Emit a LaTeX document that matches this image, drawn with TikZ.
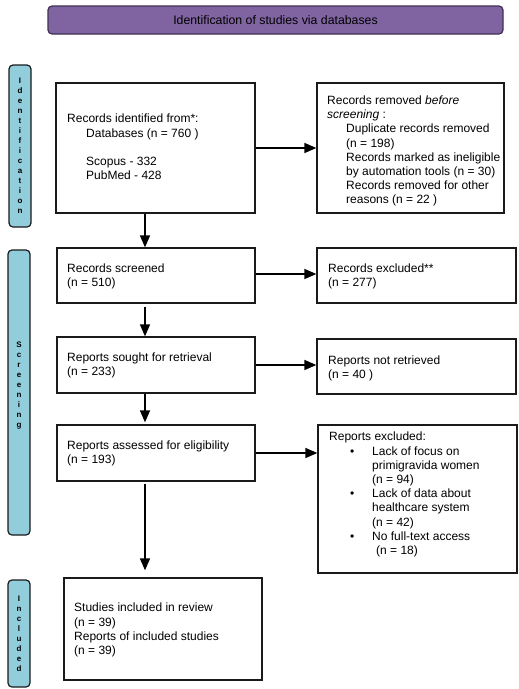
\documentclass[tikz,border=0pt]{standalone}
\usepackage{fontspec}
\setmainfont{Liberation Sans}
\usetikzlibrary{arrows.meta}
\definecolor{prpl}{HTML}{8064A2}
\definecolor{prplb}{HTML}{3F3151}
\definecolor{lblue}{HTML}{92CDDC}
\definecolor{dk}{HTML}{1A1A1A}
\begin{document}
\begin{tikzpicture}[x=1pt,y=-1pt,
  box/.style={draw=dk, line width=1.3pt, inner sep=0pt},
  txt/.style={anchor=west, align=left, inner sep=0pt, font=\fontsize{12}{14.2}\selectfont},
  side/.style={draw=dk, line width=1.2pt, fill=lblue, rounded corners=4pt, inner sep=0pt},
  sidetxt/.style={align=center, inner sep=0pt, font=\fontsize{8}{10}\selectfont\bfseries},
  arr/.style={line width=1.5pt, -{Triangle[length=12pt,width=10pt]}}]
\useasboundingbox (0,0) rectangle (519,689);

% title
\node[draw=prplb, fill=prpl, rounded corners=4pt, line width=1.2pt, inner sep=0pt,
      minimum width=455pt, minimum height=28pt, font=\fontsize{12.3}{14}\selectfont]
      (title) at (275.5,20) {Identification of studies via databases};

% side bars
\node[side, minimum width=22pt, minimum height=162pt] (sid) at (20,146) {};
\node[sidetxt] (sidt) at (sid.center) {I\\d\\e\\n\\t\\i\\f\\i\\c\\a\\t\\i\\o\\n};
\node[side, minimum width=22pt, minimum height=285pt] (sscr) at (19,392.5) {};
\node[sidetxt] (sscrt) at (19,386) {S\\c\\r\\e\\e\\n\\i\\n\\g};
\node[side, minimum width=22pt, minimum height=107pt] (sinc) at (19,633.5) {};
\node[sidetxt] (sinct) at (sinc.center) {I\\n\\c\\l\\u\\d\\e\\d};

% boxes
\node[box, minimum width=199pt, minimum height=130pt] (b1) at (155.5,148) {};
\node[txt] (b1t) at (67,147) {Records identified from*:\\
\hspace*{19pt}Databases (n = 760 )\\[14.2pt]
\hspace*{19pt}Scopus - 332\\
\hspace*{19pt}PubMed - 428};

\node[box, minimum width=187pt, minimum height=130pt] (r1) at (410.5,148) {};
\node[txt] (r1t) at (327,151) {Records removed \textit{before}\\
\textit{screening} :\\
\hspace*{19pt}Duplicate records removed\\
\hspace*{19pt}(n = 198)\\
\hspace*{19pt}Records marked as ineligible\\
\hspace*{19pt}by automation tools (n = 30)\\
\hspace*{19pt}Records removed for other\\
\hspace*{19pt}reasons (n = 22 )};

\node[box, minimum width=198pt, minimum height=55pt] (sc) at (156,275.5) {};
\node[txt] (sct) at (67,276) {Records screened\\(n = 510)};

\node[box, minimum width=199pt, minimum height=55pt] (ex) at (416.5,275.5) {};
\node[txt] (ext) at (328,276) {Records excluded**\\(n = 277)};

\node[box, minimum width=198pt, minimum height=56pt] (so) at (156,365) {};
\node[txt] (sot) at (67,365) {Reports sought for retrieval\\(n = 233)};

\node[box, minimum width=199pt, minimum height=55pt] (nr) at (416.5,366.5) {};
\node[txt] (nrt) at (328,368) {Reports not retrieved\\(n = 40 )};

\node[box, minimum width=198pt, minimum height=56pt] (as) at (156,453) {};
\node[txt] (ast) at (67,453.5) {Reports assessed for eligibility\\(n = 193)};

\node[box, minimum width=199pt, minimum height=148pt] (rx) at (417.5,499) {};
\node[txt] (rxt) at (329,494.5) {Reports excluded:\\
\hspace*{21pt}\makebox[22pt][l]{\textbullet}Lack of focus on\\
\hspace*{43pt}primigravida women\\
\hspace*{43pt}(n = 94)\\
\hspace*{21pt}\makebox[22pt][l]{\textbullet}Lack of data about\\
\hspace*{43pt}healthcare system\\
\hspace*{43pt}(n = 42)\\
\hspace*{21pt}\makebox[22pt][l]{\textbullet}No full-text access\\
\hspace*{47pt}(n = 18)};

\node[box, minimum width=198pt, minimum height=102pt] (inc) at (163,629) {};
\node[txt] (inct) at (74,630) {Studies included in review\\
(n = 39)\\
Reports of included studies\\
(n = 39)};

% connectors
\coordinate (ax) at (145,0);
\draw[arr] (b1) -- (r1);
\draw[arr] (b1.south -| ax) -- (sc.north -| ax);
\draw[arr] ([yshift=1.5pt]sc.east) -- ([yshift=1.5pt]ex.west);
\draw[arr, shorten <=3pt] (sc.south -| ax) -- (so.north -| ax);
\draw[arr] (so.east) -- (so.east -| nr.west);
\draw[arr, shorten >=2pt] (so.south -| ax) -- (as.north -| ax);
\draw[arr] (as.east) -- (as.east -| rx.west);
\draw[arr, shorten <=2pt, shorten >=7pt] (as.south -| ax) -- (inc.north -| ax);
\end{tikzpicture}
\end{document}
